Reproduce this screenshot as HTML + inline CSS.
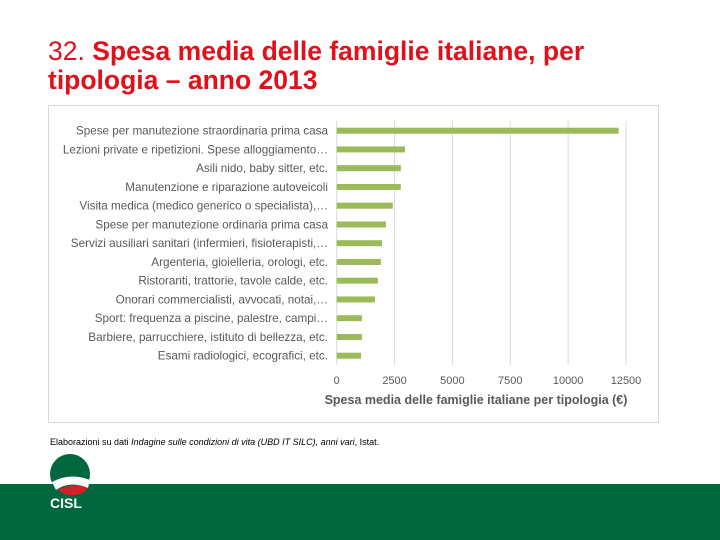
<!DOCTYPE html>
<html><head><meta charset="utf-8"><style>
body{margin:0;width:720px;height:540px;position:relative;background:#fff;font-family:"Liberation Sans",sans-serif;overflow:hidden}
.title{position:absolute;left:48px;top:37px;font-size:26.5px;line-height:29px;color:#e2101a;font-weight:bold;white-space:nowrap}
.title span{font-weight:normal}
.box{position:absolute;left:48px;top:105px;width:611px;height:318px;border:1px solid #d9d9d9;box-sizing:border-box}
.src{position:absolute;left:50px;top:437px;font-size:9px;color:#000}
.band{position:absolute;left:0;top:484px;width:720px;height:56px;background:#00673f}
</style></head><body>
<div class="title"><span>32.</span> Spesa media delle famiglie italiane, per<br>tipologia – anno 2013</div>
<div class="box"></div>
<svg id="chart" width="720" height="540" style="position:absolute;left:0;top:0"></svg>
<div class="src">Elaborazioni su dati <i>Indagine sulle condizioni di vita (UBD IT SILC), anni vari</i>, Istat.</div>
<div class="band"></div>
<svg width="60" height="70" style="position:absolute;left:44px;top:450px">
<circle cx="26" cy="24" r="20" fill="#00673f"/>
<path d="M8 32 Q26 22 46 30 L44 38 Q26 30 12 40Z" fill="#fff"/>
<path d="M14 40 Q28 32 44 38 Q38 46 26 45 Q18 44 14 40Z" fill="#d71f2b"/>
<text x="6" y="58" font-family="Liberation Sans" font-weight="bold" font-size="14" fill="#fff">CISL</text>
</svg>
<script>
const categories=["Spese per manutezione straordinaria prima casa","Lezioni private e ripetizioni. Spese alloggiamento…","Asili nido, baby sitter, etc.","Manutenzione e riparazione autoveicoli","Visita medica (medico generico o specialista),…","Spese per manutezione ordinaria prima casa","Servizi ausiliari sanitari (infermieri, fisioterapisti,…","Argenteria, gioielleria, orologi, etc.","Ristoranti, trattorie, tavole calde, etc.","Onorari commercialisti, avvocati, notai,…","Sport: frequenza a piscine, palestre, campi…","Barbiere, parrucchiere, istituto di bellezza, etc.","Esami radiologici, ecografici, etc."];
const values=[12180,2950,2770,2770,2425,2130,1955,1910,1780,1650,1090,1090,1050];
const ticks=[0,2500,5000,7500,10000,12500];
const NS="http://www.w3.org/2000/svg",svg=document.getElementById('chart');
const x0=336.7,x1=626,vmax=12500,y0=130.7,step=18.75;
const xs=v=>x0+(x1-x0)*v/vmax, ys=i=>y0+i*step;
function mk(t,a){const e=document.createElementNS(NS,t);for(const k in a)e.setAttribute(k,a[k]);svg.appendChild(e);return e;}
ticks.forEach(t=>{
 const l=mk('line',{x1:xs(t),x2:xs(t),y1:121,y2:365,stroke:'#d9d9d9','stroke-width':1});
 
 
 const tx=mk('text',{x:xs(t),y:384,'text-anchor':'middle','font-size':11,fill:'#595959','font-family':'Liberation Sans'});
 tx.textContent=t;
 
 
});
categories.forEach((c,i)=>{
 const r=mk('rect',{x:x0,y:ys(i)-3,width:xs(values[i])-x0,height:6,fill:'#9bbb59'});
 
 
 const t=mk('text',{x:328,y:ys(i)+4,'text-anchor':'end','font-size':11.7,fill:'#595959','font-family':'Liberation Sans'});
 t.textContent=c;
 
 
});
const at=mk('text',{x:476,y:404,'text-anchor':'middle','font-size':12.5,'font-weight':'bold',fill:'#595959','font-family':'Liberation Sans'});
at.textContent='Spesa media delle famiglie italiane per tipologia (€)';


</script>
</body></html>
